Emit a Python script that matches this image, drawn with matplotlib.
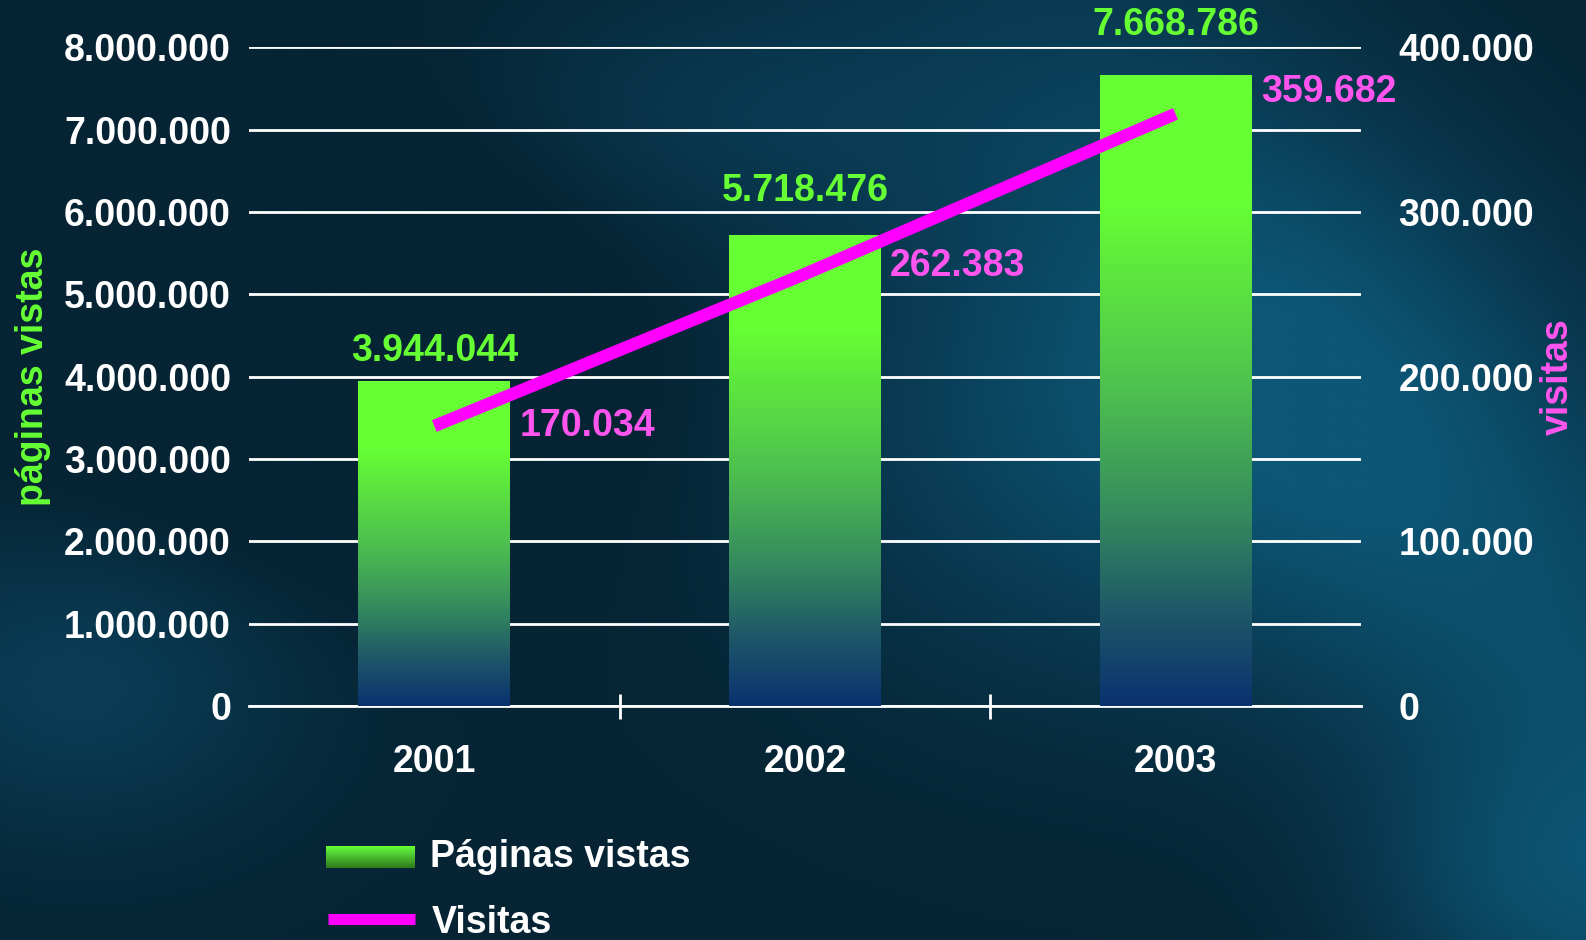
import matplotlib.pyplot as plt
import numpy as np
from matplotlib.ticker import FuncFormatter

# DATA
years = ["2001", "2002", "2003"]
paginas_vistas = [3944044, 5718476, 7668786]
visitas = [170034, 262383, 359682]
left_ticks = [0, 1000000, 2000000, 3000000, 4000000, 5000000, 6000000, 7000000, 8000000]
right_ticks = [0, 100000, 200000, 300000, 400000]

GREEN = "#66ff33"
MAGENTA = "#ff00ff"
MAGENTA_TXT = "#ff55ee"
FONT = "Liberation Sans"
FS = 27

plt.rcParams["font.family"] = [FONT, "DejaVu Sans"]
plt.rcParams["font.weight"] = "bold"


def fmt(v, _pos=None):
    return f"{int(v):,}".replace(",", ".")


def hexrgb(c):
    return np.array([int(c[i:i + 2], 16) for i in (1, 3, 5)]) / 255.0


def vgrad(stops, colors, n=256):
    # vertical gradient image, row 0 = top
    t = np.linspace(0, 1, n)
    cols = np.array([hexrgb(c) for c in colors])
    img = np.stack([np.interp(t, stops, cols[:, k]) for k in range(3)], axis=1)
    return img[:, None, :] * np.ones((1, 2, 1))


fig = plt.figure(figsize=(15.86, 9.40), dpi=100)

# BACKGROUND: dark teal with soft lighter diagonal bands
bg = fig.add_axes([0, 0, 1, 1], zorder=-10)
bg.set_axis_off()
h, w = 188, 317
yy, xx = np.mgrid[0:h, 0:w]
xn, yn = xx / w, yy / h
base = np.array([6, 36, 52]) / 255.0
light = np.array([13, 86, 118]) / 255.0
t = np.zeros((h, w))
t += 0.9 * np.exp(-((xn * 0.8 - yn * 0.35 - 0.55) ** 2) / 0.02) * (0.4 + 0.6 * yn)
t += 0.7 * np.exp(-((xn - 0.72) ** 2 / 0.05 + (yn - 0.45) ** 2 / 0.08))
t += 0.5 * np.exp(-((xn - 0.05) ** 2 / 0.02 + (yn - 0.72) ** 2 / 0.03))
t += 0.35 * np.exp(-((xn - 0.45) ** 2 / 0.03 + (yn - 0.12) ** 2 / 0.02))
t += 0.4 * np.exp(-((xn - 0.95) ** 2 / 0.01 + (yn - 0.95) ** 2 / 0.02))
t -= 0.5 * np.exp(-((xn - 0.2) ** 2 / 0.03 + (yn - 0.35) ** 2 / 0.05))
t = np.clip(t, 0, 1)
img = base[None, None, :] * (1 - t[..., None]) + light[None, None, :] * t[..., None]
bg.imshow(img, aspect="auto", extent=[0, 1, 0, 1], interpolation="bicubic")
bg.set_xlim(0, 1)
bg.set_ylim(0, 1)

ax = fig.add_axes([0.157, 0.249, 0.701, 0.7005])
ax.patch.set_alpha(0)
for s in ["top", "right", "left"]:
    ax.spines[s].set_visible(False)
ax.spines["bottom"].set_color("white")
ax.spines["bottom"].set_linewidth(2)
ax.spines["bottom"].set_zorder(1)

ax.set_yticks(left_ticks)
ax.yaxis.set_major_formatter(FuncFormatter(fmt))
ax.tick_params(axis="y", length=0, pad=13, labelsize=FS, labelcolor="white")
ax.grid(axis="y", color="white", linewidth=2, zorder=0)
ax.set_axisbelow(True)

ax.set_xticks([0.5, 1.5])
ax.set_xticklabels(["", ""])
ax.tick_params(axis="x", direction="inout", length=18, width=2, color="white")
for i, yr in enumerate(years):
    ax.text(i, -0.058, yr, transform=ax.get_xaxis_transform(), ha="center", va="top",
            fontsize=FS, color="white", fontweight="bold")

# BARS with vertical gradient
bar_img = vgrad([0, 0.2, 0.5, 0.7, 0.85, 1.0],
                ["#66ff33", "#66ff33", "#4ec04f", "#348a5e", "#1f5868", "#0a3270"])
bar_w = 0.41
bars = ax.bar(range(len(years)), paginas_vistas, width=bar_w, color="none", zorder=2)
for b in bars:
    x0, y1 = b.get_x(), b.get_height()
    im = ax.imshow(bar_img, extent=[x0, x0 + bar_w, 0, y1], aspect="auto", zorder=2,
                   interpolation="bilinear")
    im.set_clip_path(b)
ax.set_xlim(-0.5, 2.5)
ax.set_ylim(0, 8000000)

# label offsets above the bars, as placed in the original
bar_label_dy = [370000, 535000, 610000]
for i, v in enumerate(paginas_vistas):
    ax.text(i, v + bar_label_dy[i], fmt(v), ha="center", va="center", fontsize=FS,
            color=GREEN, fontweight="bold", zorder=5, clip_on=False)

ax.set_ylabel("páginas vistas", color=GREEN, fontsize=FS, fontweight="bold", labelpad=9)

# SECOND AXIS: visitas
ax2 = ax.twinx()
ax2.patch.set_alpha(0)
ax2.set_ylim(0, 400000)
for s in ax2.spines.values():
    s.set_visible(False)
ax2.set_yticks(right_ticks)
ax2.yaxis.set_major_formatter(FuncFormatter(fmt))
ax2.tick_params(axis="y", length=0, pad=27, labelsize=FS, labelcolor="white")
ax2.plot(range(len(years)), visitas, color=MAGENTA, linewidth=9, solid_capstyle="butt", zorder=4)
label_dy = [0, 5000, 13000]
for i, v in enumerate(visitas):
    ax2.text(i + bar_w / 2 + 0.025, v + label_dy[i], fmt(v), ha="left", va="center",
             fontsize=FS, color=MAGENTA_TXT, fontweight="bold", zorder=5)
ax2.set_ylabel("visitas", color=MAGENTA_TXT, fontsize=FS, fontweight="bold",
               rotation=90, labelpad=4)

# LEGEND (manual)
lg = fig.add_axes([0, 0, 1, 1], zorder=5)
lg.set_axis_off()
leg_img = vgrad([0, 0.3, 1.0], ["#66ff33", "#55d63a", "#2e7a1a"], n=64)
lg.imshow(leg_img, extent=[326, 415, 868, 846], aspect="auto", interpolation="bilinear")
lg.plot([328, 415], [919, 919], color=MAGENTA, linewidth=8, solid_capstyle="butt")
lg.text(430, 857, "Páginas vistas", color="white", fontsize=FS, fontweight="bold",
        ha="left", va="center")
lg.text(432, 923, "Visitas", color="white", fontsize=FS, fontweight="bold",
        ha="left", va="center")
lg.set_xlim(0, 1586)
lg.set_ylim(940, 0)

fig.savefig("out.png", dpi=100)
